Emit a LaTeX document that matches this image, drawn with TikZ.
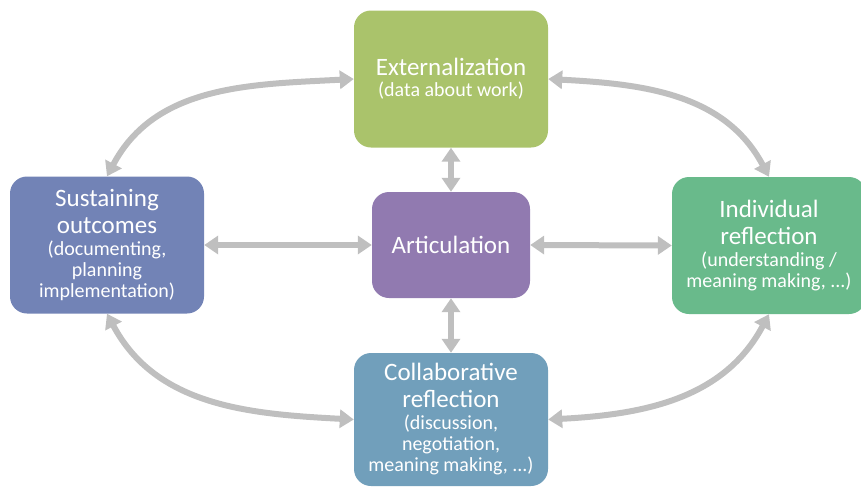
\documentclass[tikz,border=0pt]{standalone}
\usepackage{fontspec}
\setmainfont{Carlito}
\usetikzlibrary{arrows.meta}
\definecolor{extgreen}{HTML}{AAC36B}
\definecolor{susblue}{HTML}{7283B6}
\definecolor{indgreen}{HTML}{69BA8B}
\definecolor{colblue}{HTML}{719FBB}
\definecolor{artpurple}{HTML}{917AB0}
\definecolor{linkgray}{HTML}{BFBFBF}
\newcommand{\subtxt}[1]{{\fontsize{20}{21}\selectfont #1}}
\begin{document}
\begin{tikzpicture}[x=1pt,y=-1pt,
  stage/.style={rounded corners=17pt, minimum width=194pt, minimum height=137pt,
    inner sep=0pt, text=white, align=center, font=\fontsize{25}{27}\selectfont},
  link/.style={draw=linkgray, line width=6pt,
    {Triangle[width=18pt,length=14pt]}-{Triangle[width=18pt,length=14pt]}}]
\useasboundingbox (0,0) rectangle (861,488);
% stages of the cycle
\node[stage, fill=extgreen] (ext) at (451,79)
  {Externalization\\[-6pt]\subtxt{(data about work)}};
\node[stage, fill=susblue] (sus) at (107,245)
  {Sustaining\\outcomes\\[-5pt]\subtxt{(documenting,}\\[-6pt]\subtxt{planning}\\[-6pt]\subtxt{implementation)}};
\node[stage, fill=indgreen] (ind) at (769,245.5)
  {Individual\\reflection\\[-5pt]\subtxt{(understanding /}\\[-6pt]\subtxt{meaning making, ...)}};
\node[stage, fill=colblue, minimum height=133pt] (col) at (451,419.5)
  {Collaborative\\reflection\\[-5pt]\subtxt{(discussion,}\\[-6pt]\subtxt{negotiation,}\\[-6pt]\subtxt{meaning making, ...)}};
\node[stage, fill=artpurple, minimum width=158pt, minimum height=106pt] (art) at (451,245)
  {Articulation};
% links through the centre
\draw[link] (sus.east) -- (art.west);
\draw[link] (art.east) -- (ind.west);
\draw[link] (ext.south) -- (art.north);
\draw[link] (art.south) -- (col.north);
% outer cycle
\draw[link] (sus.north) to[out=62, in=183] (ext.west);
\draw[link] (ext.east) to[out=-3, in=118] (ind.north);
\draw[link] (sus.south) to[out=-62, in=177] (col.west);
\draw[link] (col.east) to[out=3, in=-118] (ind.south);
\end{tikzpicture}
\end{document}
